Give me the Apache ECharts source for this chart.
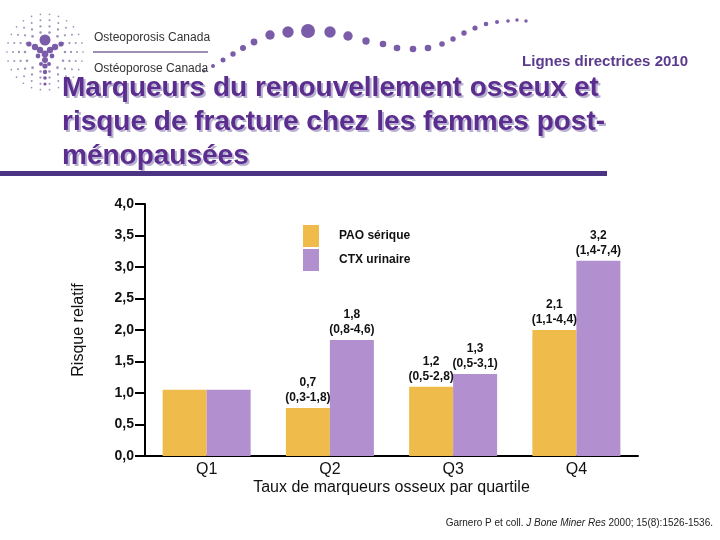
<!DOCTYPE html>
<html><head><meta charset="utf-8">
<script src="https://cdn.jsdelivr.net/npm/echarts@6/dist/echarts.min.js"></script>
<style>html,body{margin:0;padding:0;background:#fff}#c{width:720px;height:540px}</style>
</head><body><div id="c"></div>
<script>
// ---- data ----
const categories = ['Q1', 'Q2', 'Q3', 'Q4'];
const seriesNames = ['PAO sérique', 'CTX urinaire'];
const paoValues = [1.05, 0.76, 1.10, 2.00];
const ctxValues = [1.05, 1.84, 1.30, 3.10];
const paoRR = ['', '0,7', '1,2', '2,1'];
const paoCI = ['', '(0,3-1,8)', '(0,5-2,8)', '(1,1-4,4)'];
const ctxRR = ['', '1,8', '1,3', '3,2'];
const ctxCI = ['', '(0,8-4,6)', '(0,5-3,1)', '(1,4-7,4)'];
const yAxisName = 'Risque relatif';
const xAxisName = 'Taux de marqueurs osseux par quartile';
const titleLines = ['Marqueurs du renouvellement osseux et', 'risque de fracture chez les femmes post-', 'ménopausées'];

const FONT = "'Liberation Sans', Arial, sans-serif";
const ORANGE = '#efbc4b', PURPLE = '#b28fcf';
const TITLE_PURPLE = '#5b2d8e';

const chart = echarts.init(document.getElementById('c'), null, {renderer: 'canvas'});

function labelFor(rr, ci) {
  return {
    show: true, position: 'top', distance: 3,
    formatter: p => rr[p.dataIndex] ? rr[p.dataIndex] + '\n' + ci[p.dataIndex] : '',
    fontFamily: FONT, fontSize: 12, fontWeight: 'bold', lineHeight: 15, color: '#111'
  };
}

// ---- decorative logo ----
const graphics = [];
const logoCx = 45, logoCy = 52;
for (let ring = 0; ring < 4; ring++) {
  const r = 20 + ring * 6;
  const n = 14 + ring * 4;
  for (let k = 0; k < n; k++) {
    const a = (k / n) * Math.PI * 2;
    graphics.push({type: 'circle', shape: {cx: logoCx + r * Math.cos(a), cy: logoCy + r * Math.sin(a), r: 1.3 - ring * 0.15},
      style: {fill: '#9d92b8'}});
  }
}
const figure = [[45,40,5.5],[29,44,2.6],[35,47,3.2],[40,50,3.2],[61,44,2.6],[55,47,3.2],[50,50,3.2],
  [45,54,3.4],[38,56,2.4],[52,56,2.4],[45,60,3],[41,64,2],[49,64,2],[45,66,2.6],[45,72,2.2],[45,78,1.8],[45,84,1.6]];
figure.forEach(d => graphics.push({type: 'circle', shape: {cx: d[0], cy: d[1], r: d[2]}, style: {fill: '#7a5ca8'}}));
const wave = [[204,71,1.5],[213,66,2],[223,60,2.5],[233,54,2.7],[243,48,3],[254,42,3.4],[270,35,4.7],[288,32,5.7],
  [308,31,7],[330,32,5.7],[348,36,4.7],[366,41,3.7],[383,44,3.3],[397,48,3.3],[413,49,3.3],[428,48,3.3],[442,44,2.8],
  [453,39,2.7],[464,33,2.7],[475,28,2.6],[486,24,2.3],[497,22,2],[508,21,1.8],[517,20,1.7],[526,21,1.7]];
wave.forEach(d => graphics.push({type: 'circle', shape: {cx: d[0], cy: d[1], r: d[2]}, style: {fill: '#7a5ca8'}}));
graphics.push({type: 'text', style: {text: 'Osteoporosis Canada', x: 94, y: 38, font: "12px " + FONT, fill: '#333', textVerticalAlign: 'middle'}});
graphics.push({type: 'line', shape: {x1: 93, y1: 52, x2: 208, y2: 52}, style: {stroke: '#7c6d9a', lineWidth: 1.5}});
graphics.push({type: 'text', style: {text: 'Ostéoporose Canada', x: 94, y: 69, font: "12px " + FONT, fill: '#333', textVerticalAlign: 'middle'}});
graphics.push({type: 'text', style: {text: 'Lignes directrices 2010', x: 688, y: 62, font: "bold 15px " + FONT, fill: '#5b3a8e', textAlign: 'right', textVerticalAlign: 'middle'}});
titleLines.forEach((t, i) => {
  const y = 88 + i * 34;
  graphics.push({type: 'text', style: {text: t, x: 64, y: y + 2, font: "bold 28px " + FONT, fill: '#b8b0d0', textVerticalAlign: 'middle'}});
  graphics.push({type: 'text', style: {text: t, x: 62, y: y, font: "bold 28px " + FONT, fill: TITLE_PURPLE, textVerticalAlign: 'middle'}});
});
graphics.push({type: 'rect', shape: {x: 0, y: 171, width: 607, height: 5}, style: {fill: '#4a3483'}});
graphics.push({type: 'text', style: {
  text: '{n|Garnero P et coll. }{i|J Bone Miner Res}{n| 2000; 15(8):1526-1536.}',
  x: 713, y: 523, textAlign: 'right', textVerticalAlign: 'middle',
  rich: {n: {fontFamily: FONT, fontSize: 10, fill: '#222', color: '#222'}, i: {fontFamily: FONT, fontSize: 10, fontStyle: 'italic', fill: '#222', color: '#222'}}
}});

const option = {
  backgroundColor: '#fff',
  animation: false,
  textStyle: {fontFamily: FONT},
  graphic: graphics,
  legend: {
    orient: 'vertical', left: 303, top: 225, padding: 0, itemWidth: 16, itemHeight: 22, itemGap: 2,
    icon: 'rect', data: seriesNames,
    textStyle: {fontFamily: FONT, fontSize: 12, fontWeight: 'bold', color: '#111', padding: [0, 0, 0, 15]}
  },
  grid: {left: 145, right: 82, top: 204, bottom: 84, containLabel: false},
  xAxis: {
    type: 'category', data: categories,
    axisLine: {lineStyle: {color: '#000', width: 2}},
    axisTick: {show: false},
    axisLabel: {fontFamily: FONT, fontSize: 16, color: '#111', margin: 6},
    name: xAxisName, nameLocation: 'middle', nameGap: 24,
    nameTextStyle: {fontFamily: FONT, fontSize: 16, color: '#111'}
  },
  yAxis: {
    type: 'value', min: 0, max: 4, interval: 0.5,
    axisLine: {show: true, lineStyle: {color: '#000', width: 2}},
    axisTick: {show: true, length: 10, lineStyle: {color: '#000', width: 2}},
    splitLine: {show: false},
    axisLabel: {fontFamily: FONT, fontSize: 14, fontWeight: 'bold', color: '#111', margin: 11,
      formatter: v => v.toFixed(1).replace('.', ',')},
    name: yAxisName, nameLocation: 'middle', nameRotate: 90, nameGap: 58,
    nameTextStyle: {fontFamily: FONT, fontSize: 16, color: '#111'}
  },
  series: [
    {name: seriesNames[0], type: 'bar', data: paoValues, barWidth: 44, barGap: '0%',
     itemStyle: {color: ORANGE}, label: labelFor(paoRR, paoCI)},
    {name: seriesNames[1], type: 'bar', data: ctxValues, barWidth: 44, barGap: '0%',
     itemStyle: {color: PURPLE}, label: labelFor(ctxRR, ctxCI)}
  ]
};
chart.setOption(option);
</script></body></html>
